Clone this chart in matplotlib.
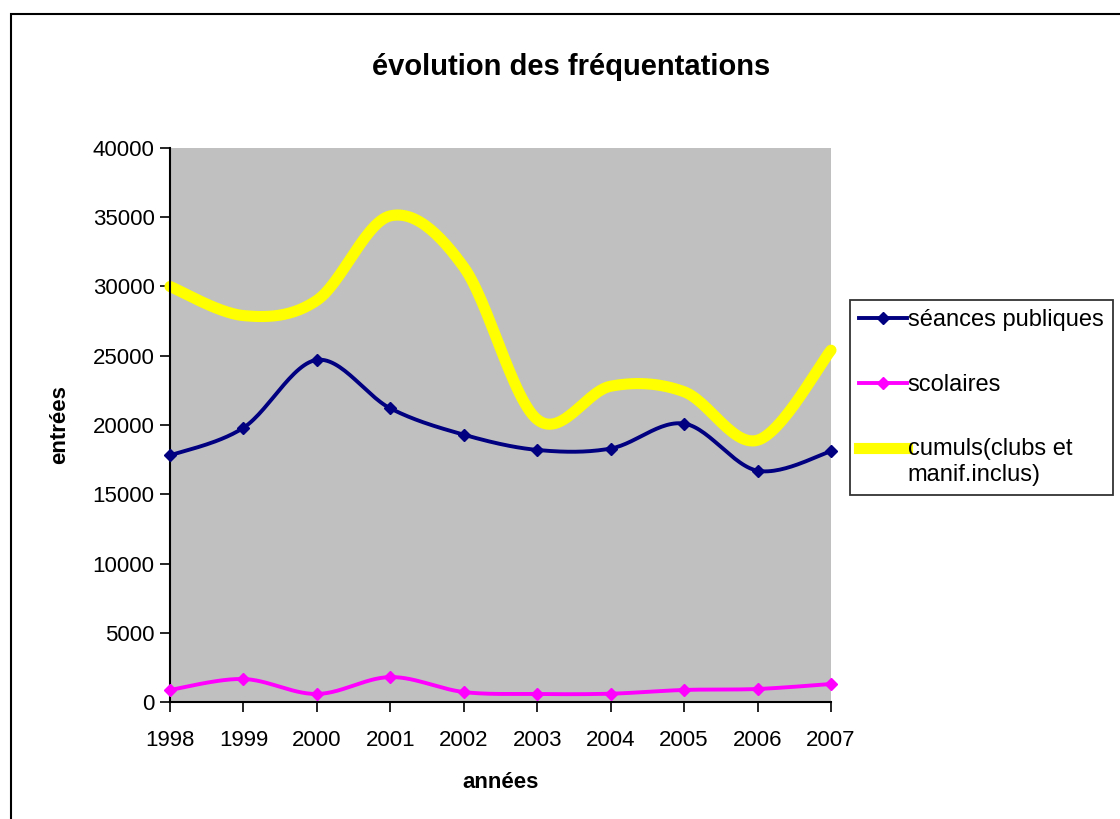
import numpy as np
import matplotlib
matplotlib.use("Agg")
import matplotlib.pyplot as plt
from matplotlib.patches import Rectangle
from matplotlib.lines import Line2D
from matplotlib.legend_handler import HandlerLine2D

plt.rcParams['font.family'] = ['Liberation Sans', 'DejaVu Sans']

years = [1998, 1999, 2000, 2001, 2002, 2003, 2004, 2005, 2006, 2007]
seances = [17800, 19800, 24700, 21200, 19300, 18200, 18300, 20100, 16700, 18100]
scolaires = [870, 1660, 580, 1800, 720, 580, 600, 870, 940, 1300]
cumuls = [30000, 27900, 29000, 35100, 31400, 20400, 22800, 22400, 18900, 25400]

labels = ['séances publiques', 'scolaires', 'cumuls(clubs et\nmanif.inclus)']


def smooth(xv, yv, n=30):
    x = np.asarray(xv, float)
    y = np.asarray(yv, float)
    px = np.concatenate([[x[0]], x, [x[-1]]])
    py = np.concatenate([[y[0]], y, [y[-1]]])
    xs, ys = [], []
    t = np.linspace(0, 1, n)
    for i in range(1, len(px) - 2):
        p0x, p1x, p2x, p3x = px[i - 1], px[i], px[i + 1], px[i + 2]
        p0y, p1y, p2y, p3y = py[i - 1], py[i], py[i + 1], py[i + 2]
        c1x = p1x + (p2x - p0x) / 6
        c1y = p1y + (p2y - p0y) / 6
        c2x = p2x - (p3x - p1x) / 6
        c2y = p2y - (p3y - p1y) / 6
        bx = (1 - t) ** 3 * p1x + 3 * (1 - t) ** 2 * t * c1x + 3 * (1 - t) * t ** 2 * c2x + t ** 3 * p2x
        by = (1 - t) ** 3 * p1y + 3 * (1 - t) ** 2 * t * c1y + 3 * (1 - t) * t ** 2 * c2y + t ** 3 * p2y
        xs.extend(bx)
        ys.extend(by)
    return np.array(xs), np.array(ys)


class ShiftHandler(HandlerLine2D):
    def __init__(self, shift, **kw):
        super().__init__(**kw)
        self.shift = shift

    def create_artists(self, legend, orig_handle, xdescent, ydescent, width, height, fontsize, trans):
        arts = super().create_artists(legend, orig_handle, xdescent, ydescent, width, height, fontsize, trans)
        for a in arts:
            a.set_ydata(np.asarray(a.get_ydata()) + self.shift)
        return arts


fig = plt.figure(figsize=(11.2, 8.19), dpi=100)
fig.patch.set_facecolor('white')
fig.add_artist(Rectangle((11 / 1120, -0.05), 1.1, 1 - 14 / 819 + 0.05,
                         transform=fig.transFigure, fill=False,
                         edgecolor='black', linewidth=1.5))

ax = fig.add_axes([170 / 1120, 1 - 702 / 819, (831 - 170) / 1120, (702 - 148) / 819])
ax.set_facecolor('#C0C0C0')

navy = '#000080'
mag = '#FF00FF'
yel = '#FFFF00'

xs, ys = smooth(years, cumuls)
ax.plot(xs, ys, color=yel, lw=8, solid_capstyle='round', zorder=2, clip_on=False)
xs, ys = smooth(years, seances)
ax.plot(xs, ys, color=navy, lw=2.8, zorder=3, clip_on=False)
ax.plot(years, seances, ls='none', marker='D', ms=6.5, color=navy, zorder=4, clip_on=False)
xs, ys = smooth(years, scolaires)
ax.plot(xs, ys, color=mag, lw=2.8, zorder=3, clip_on=False)
ax.plot(years, scolaires, ls='none', marker='D', ms=6.5, color=mag, zorder=4, clip_on=False)

ax.set_xlim(1998, 2007)
ax.set_ylim(0, 40000)
ax.set_xticks(years)
ax.set_xticklabels([str(y) for y in years])
ax.set_yticks(np.arange(0, 40001, 5000))
ax.tick_params(axis='both', direction='out', length=7, width=1.2, labelsize=16, colors='black')
ax.tick_params(axis='x', pad=13)
ax.tick_params(axis='y', pad=4)
for s in ['top', 'right']:
    ax.spines[s].set_visible(False)
for s in ['left', 'bottom']:
    ax.spines[s].set_linewidth(1.5)
    ax.spines[s].set_color('black')

ax.set_xlabel('années', fontsize=16, fontweight='bold', labelpad=15)
ax.set_ylabel('entrées', fontsize=16, fontweight='bold', labelpad=16)
fig.text(571 / 1120, 1 - 67 / 819, 'évolution des fréquentations', ha='center', va='center',
         fontsize=21, fontweight='bold')

handles = [
    Line2D([], [], color=navy, lw=2.8, marker='D', ms=6.5),
    Line2D([], [], color=mag, lw=2.8, marker='D', ms=6.5),
    Line2D([], [], color=yel, lw=8),
]
leg = fig.legend(handles, labels, loc='upper left',
                 bbox_to_anchor=(850 / 1120, 1 - 300 / 819),
                 fontsize=17, frameon=True, fancybox=False, edgecolor='black',
                 handlelength=2.0, handletextpad=0.05, labelspacing=1.8,
                 borderpad=0.4, borderaxespad=0,
                 handler_map={handles[2]: ShiftHandler(10.0)})
leg.get_frame().set_linewidth(1.3)

fig.savefig('out.png', dpi=100)
